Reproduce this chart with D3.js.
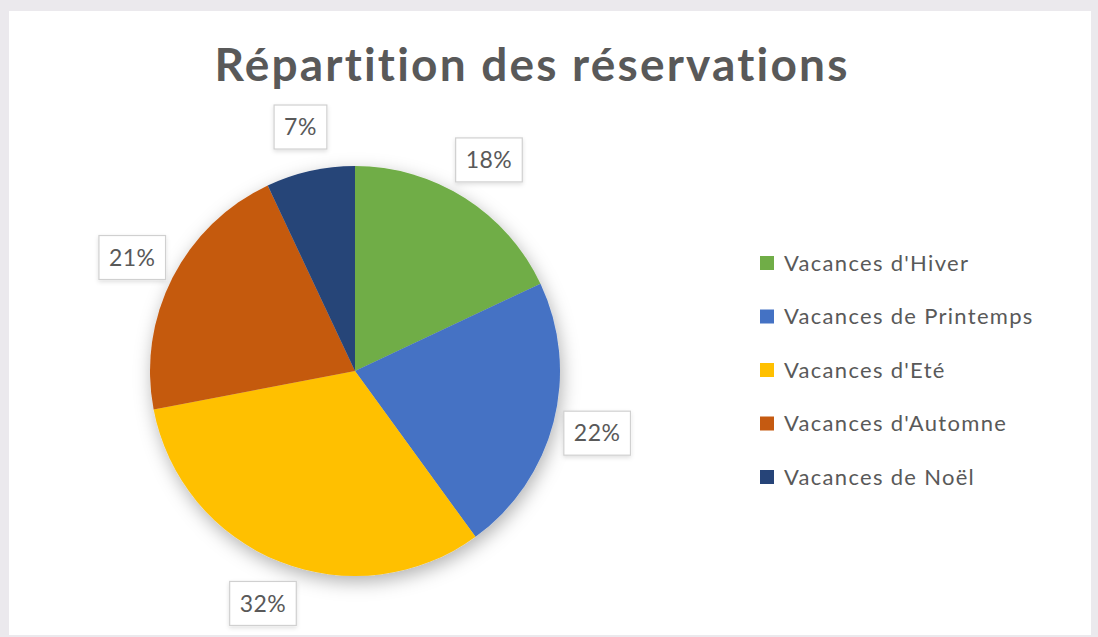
<!DOCTYPE html>
<html>
<head>
<meta charset="utf-8">
<script src="https://cdn.jsdelivr.net/npm/d3@7"></script>
<style>
  body { margin: 0; background: #ebe9ed; }
  svg { display: block; }
  text { font-family: Lato, "Open Sans", sans-serif; }
</style>
</head>
<body>
<svg id="chart" width="1098" height="637"></svg>
<script>
// data
var categories = ["Vacances d'Hiver", "Vacances de Printemps", "Vacances d'Eté", "Vacances d'Automne", "Vacances de Noël"];
var values = [18, 22, 32, 21, 7];
var colors = ["#70ad47", "#4472c4", "#ffc000", "#c55a11", "#264478"];
var chartTitle = "Répartition des réservations";

var svg = d3.select("#chart");

// white chart area
svg.append("rect")
    .attr("x", 9).attr("y", 11)
    .attr("width", 1082).attr("height", 624)
    .attr("fill", "#ffffff");

// shadow filters
var defs = svg.append("defs");
defs.append("filter").attr("id", "pieShadow")
    .attr("x", "-30%").attr("y", "-30%").attr("width", "160%").attr("height", "160%")
    .append("feDropShadow")
    .attr("dx", 2).attr("dy", 6).attr("stdDeviation", 9)
    .attr("flood-color", "#000").attr("flood-opacity", 0.3);
defs.append("filter").attr("id", "boxShadow")
    .attr("x", "-30%").attr("y", "-30%").attr("width", "160%").attr("height", "160%")
    .append("feDropShadow")
    .attr("dx", 0).attr("dy", 2).attr("stdDeviation", 2)
    .attr("flood-color", "#000").attr("flood-opacity", 0.12);

// title
svg.append("text")
    .attr("x", 532).attr("y", 81)
    .attr("text-anchor", "middle")
    .style("font-size", "46px")
    .style("font-weight", "bold")
    .style("letter-spacing", "2.2px")
    .attr("fill", "#595959")
    .text(chartTitle);

var cx = 355, cy = 371, radius = 205;

var pie = d3.pie().sort(null).value(function (d) { return d; });
var arcs = pie(values);

var arc = d3.arc().innerRadius(0).outerRadius(radius);
var labelArc = d3.arc().innerRadius(250).outerRadius(250);

var panel = svg.append("g")
    .attr("transform", "translate(" + cx + "," + cy + ")");

panel.append("g")
    .attr("filter", "url(#pieShadow)")
    .selectAll("path")
    .data(arcs)
    .enter()
    .append("path")
    .attr("d", arc)
    .attr("fill", function (d, i) { return colors[i]; });

var total = d3.sum(values);

// data labels in boxes
var lab = panel.selectAll(".lbl")
    .data(arcs)
    .enter()
    .append("g")
    .attr("class", "lbl")
    .attr("transform", function (d) {
        var c = labelArc.centroid(d);
        return "translate(" + c[0] + "," + c[1] + ")";
    });

lab.append("rect").attr("class", "box");
lab.append("text")
    .attr("text-anchor", "middle")
    .attr("dy", "0.35em")
    .style("font-size", "23px")
    .style("letter-spacing", "0.5px")
    .attr("fill", "#595959")
    .text(function (d) { return Math.round(d.value / total * 100) + "%"; });

lab.each(function () {
    var g = d3.select(this);
    var w = g.select("text").node().getComputedTextLength() + 20;
    var h = 44;
    g.select("rect")
        .attr("x", -w / 2).attr("y", -h / 2)
        .attr("width", w).attr("height", h)
        .attr("fill", "#ffffff")
        .attr("stroke", "#d0d0d0")
        .attr("stroke-width", 1.2)
        .attr("filter", "url(#boxShadow)");
});

// legend
var legend = svg.append("g")
    .attr("transform", "translate(760,263)");

var item = legend.selectAll(".item")
    .data(categories)
    .enter()
    .append("g")
    .attr("class", "item")
    .attr("transform", function (d, i) { return "translate(0," + (i * 53.5) + ")"; });

item.append("rect")
    .attr("x", 0).attr("y", -7)
    .attr("width", 14).attr("height", 14)
    .attr("fill", function (d, i) { return colors[i]; });

item.append("text")
    .attr("x", 24).attr("dy", "0.35em")
    .style("font-size", "22px")
    .style("letter-spacing", "1.3px")
    .attr("fill", "#595959")
    .text(function (d) { return d; });
</script>
</body>
</html>
